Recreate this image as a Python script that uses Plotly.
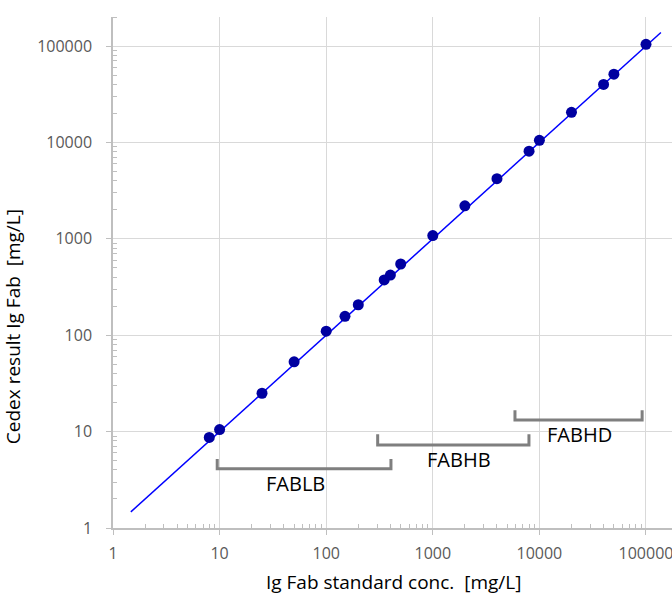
import numpy as np
import plotly.graph_objects as go

# Data
std_conc = [8, 10, 25, 50, 100, 150, 200, 350, 400, 500, 1000, 2000, 4000, 8000, 10000, 20000, 40000, 50000, 100000]
cedex_res = [8.7, 10.5, 25, 53, 110, 157, 207, 374, 421, 548, 1080, 2200, 4200, 8100, 10500, 20500, 40000, 51000, 104000]
fit_x = [1.47, 138000]
fit_y = [1.47, 138000]

bracket_names = ["FABLB", "FABHB", "FABHD"]
bracket_lo = [9.5, 304, 5900]
bracket_hi = [405, 7980, 92000]
bracket_top = [5.2, 9.4, 16.7]
bracket_bot = [4.12, 7.26, 13.2]
label_x = [51, 1780, 23800]
label_y = [2.9, 5.14, 9.23]

major = [1, 10, 100, 1000, 10000, 100000]
major_text = ["1", "10", "100", "1000", "10000", "100000"]
minor_vals = [m * d for d in [1, 10, 100, 1000, 10000, 100000] for m in range(2, 10)]

TICKFONT = "Open Sans"
TEXTFONT = "Open Sans"
fig = go.Figure()

fig.add_trace(go.Scatter(x=fit_x, y=fit_y, mode="lines",
                         line=dict(color="#0000FF", width=1.5), showlegend=False, hoverinfo="skip"))
fig.add_trace(go.Scatter(x=std_conc, y=cedex_res, mode="markers",
                         marker=dict(color="#0000A0", size=11), showlegend=False))

for lo, hi, top, bot in zip(bracket_lo, bracket_hi, bracket_top, bracket_bot):
    fig.add_trace(go.Scatter(x=[lo, lo, hi, hi], y=[top, bot, bot, top], mode="lines",
                             line=dict(color="#7F7F7F", width=3), showlegend=False, hoverinfo="skip"))

for name, lx, ly in zip(bracket_names, label_x, label_y):
    fig.add_annotation(x=np.log10(lx), y=np.log10(ly), text=name, showarrow=False,
                       font=dict(family=TEXTFONT, size=20, color="#000000"))

# axis titles as annotations (paper coordinates)
fig.add_annotation(xref="paper", yref="paper", x=0.501, y=-0.1057, text="Ig Fab standard conc.  [mg/L]",
                   showarrow=False, xanchor="center", yanchor="middle",
                   font=dict(family=TEXTFONT, size=19, color="#000000"))
fig.add_annotation(xref="paper", yref="paper", x=-0.1789, y=0.395, text="Cedex result Ig Fab  [mg/L]",
                   showarrow=False, xanchor="center", yanchor="middle", textangle=-90,
                   font=dict(family=TEXTFONT, size=19, color="#000000"))

axis_common = dict(
    type="log", tickvals=major, ticktext=major_text,
    showgrid=True, gridcolor="#D9D9D9", gridwidth=1.3,
    showline=True, linecolor="#BFBFBF", linewidth=1.5,
    ticks="outside", ticklen=5, tickcolor="#BFBFBF", tickwidth=1.3,
    tickfont=dict(family=TICKFONT, size=16, color="#595959"),
    minor=dict(tickvals=minor_vals, ticks="inside", ticklen=4, tickcolor="#BFBFBF", showgrid=False),
    zeroline=False,
)

fig.update_xaxes(**axis_common, range=[0, 5.244], ticklabelstandoff=5, ticklabeloverflow="allow")
fig.update_yaxes(**axis_common, range=[0, 5.301], ticklabelstandoff=11)

fig.update_layout(width=672, height=594, margin=dict(l=113, r=0, t=17, b=66),
                  plot_bgcolor="white", paper_bgcolor="white", font=dict(family=TEXTFONT))

fig.write_html("out.html", config={"displayModeBar": False},
               post_script="document.body.style.margin='0';")
